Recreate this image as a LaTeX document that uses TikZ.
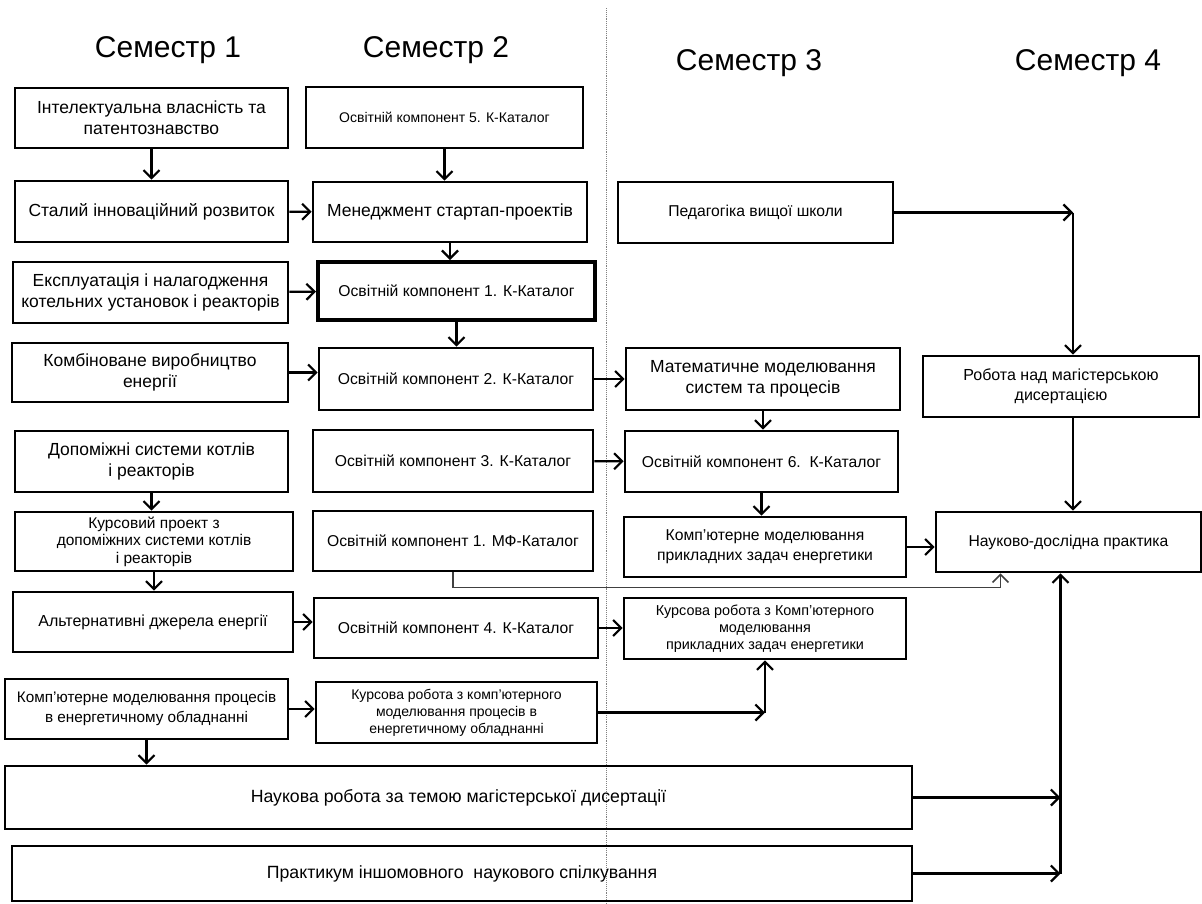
\documentclass[tikz,border=0pt]{standalone}
\usepackage{fontspec}
\setmainfont{Liberation Sans}
\usetikzlibrary{positioning}
\usetikzlibrary{arrows.meta}

\tikzset{
    box/.style={draw, line width=2.6pt, align=center, inner sep=2pt,
        font=\fontsize{17.5}{21}\selectfont},
    mbox/.style={box, font=\fontsize{15.7}{20}\selectfont},
    sbox/.style={box, font=\fontsize{14}{17}\selectfont},
    sem/.style={font=\fontsize{30}{36}\selectfont},
    arr/.style={->, line width=2.2pt},
    >={Straight Barb[length=8pt,width=16pt]},
}

\begin{document}
\begin{tikzpicture}[x=1pt, y=-1pt]
    \useasboundingbox (0,0) rectangle (1202,903);
    \draw[gray, line width=0.9pt, densely dotted] (606,8) -- (606,903);

    \node[sem] (s1) at (168,50) {Семестр 1};
    \node[sem] (s2) at (436,50) {Семестр 2};
    \node[sem] (s3) at (749,63) {Семестр 3};
    \node[sem] (s4) at (1088,63) {Семестр 4};

    \node[box, minimum width=273pt, minimum height=60pt] (ip) at (151.5,118) {Інтелектуальна власність та\\патентознавство};
    \node[box, minimum width=273pt, minimum height=61pt] (rozv) at (151.5,211.5) {Сталий інноваційний розвиток};
    \node[box, minimum width=275pt, minimum height=61pt] (ekspl) at (150.5,292.5) {Експлуатація і налагодження\\котельних установок і реакторів};
    \node[box, minimum width=276pt, minimum height=59pt] (komb) at (150,372.5) {Комбіноване виробництво\\енергії};
    \node[box, minimum width=273pt, minimum height=61pt] (dopom) at (151.5,461.5) {Допоміжні системи котлів\\і реакторів};
    \node[mbox, font=\fontsize{15.5}{17.5}\selectfont, minimum width=278pt, minimum height=59pt] (kproekt) at (154,541.5) {Курсовий проект з\\допоміжних системи котлів\\і реакторів};
    \node[mbox, font=\fontsize{16}{20}\selectfont, minimum width=280pt, minimum height=60pt] (alt) at (153,622) {Альтернативні джерела енергії};
    \node[mbox, font=\fontsize{15.3}{20}\selectfont, minimum width=283pt, minimum height=60pt] (kmod) at (146.5,709) {Комп'ютерне моделювання процесів\\в енергетичному обладнанні};

    \node[sbox, minimum width=277pt, minimum height=61pt] (ok5) at (444.5,117.5) {Освітній компонент 5. К-Каталог};
    \node[box, minimum width=274pt, minimum height=60pt] (startap) at (450,212) {Менеджмент стартап-проектів};
    \node[mbox, line width=4pt, minimum width=277pt, minimum height=58pt] (ok1) at (456.5,291) {Освітній компонент 1. К-Каталог};
    \node[mbox, minimum width=274pt, minimum height=62pt] (ok2) at (456,379) {Освітній компонент 2. К-Каталог};
    \node[mbox, minimum width=280pt, minimum height=62pt] (ok3) at (453,461) {Освітній компонент 3. К-Каталог};
    \node[mbox, minimum width=280pt, minimum height=60pt] (okmf) at (453,541) {Освітній компонент 1. МФ-Каталог};
    \node[mbox, minimum width=284pt, minimum height=60pt] (ok4) at (456,628) {Освітній компонент 4. К-Каталог};
    \node[sbox, minimum width=281pt, minimum height=61pt] (kursmod) at (456.5,712.5) {Курсова робота з комп'ютерного\\моделювання процесів в\\енергетичному обладнанні};

    \node[mbox, minimum width=275pt, minimum height=61pt] (ped) at (755.5,212.5) {Педагогіка вищої школи};
    \node[box, minimum width=274pt, minimum height=62pt] (matmod) at (763,379) {Математичне моделювання\\систем та процесів};
    \node[mbox, minimum width=273pt, minimum height=61pt] (ok6) at (761.5,461.5) {Освітній компонент 6.~~К-Каталог};
    \node[mbox, minimum width=282pt, minimum height=60pt] (kompmod) at (765,547) {Комп'ютерне моделювання\\прикладних задач енергетики};
    \node[sbox, font=\fontsize{14.4}{17}\selectfont, minimum width=282pt, minimum height=61pt] (kurskomp) at (765,628.5) {Курсова робота з Комп'ютерного\\моделювання\\прикладних задач енергетики};

    \node[mbox, font=\fontsize{16}{20}\selectfont, minimum width=276pt, minimum height=61pt] (robota) at (1061,386.5) {Робота над магістерською\\дисертацією};
    \node[mbox, minimum width=265pt, minimum height=60pt] (praktyka) at (1068.5,542) {Науково-дослідна практика};

    \node[box, font=\fontsize{17.7}{21}\selectfont, minimum width=907pt, minimum height=63pt] (nauk) at (458.5,797.5) {Наукова робота за темою магістерської дисертації};
    \node[box, font=\fontsize{17.7}{21}\selectfont, minimum width=900pt, minimum height=55pt] (inshom) at (462,873.5) {Практикум іншомовного~~наукового спілкування};

    \coordinate (kut1) at ([xshift=12pt]robota.north |- ped.east);
    \coordinate (kut2) at (kurskomp.south |- kursmod.east);
    \coordinate (kut3) at ([xshift=-8pt]praktyka.south |- nauk.east);
    \coordinate (kut4) at (kut3 |- inshom.east);

    \draw[arr] (ip) -- (rozv);
    \draw[arr] (rozv) -- (startap);
    \draw[arr] (ekspl) -- (ok1);
    \draw[arr] (komb.east) -- (komb.east -| ok2.west);
    \draw[arr] (dopom.south) -- (dopom.south |- kproekt.north);
    \draw[arr] (kproekt.south) -- (kproekt.south |- alt.north);
    \draw[arr] (alt.east) -- (alt.east -| ok4.west);
    \draw[arr] (kmod.east) -- (kmod.east -| kursmod.west);
    \draw[arr] (kmod.south) -- (kmod.south |- nauk.north);

    \draw[arr] (ok5.south) -- (ok5.south |- startap.north);
    \draw[arr] (startap.south) -- (startap.south |- ok1.north);
    \draw[arr] (ok1.south) -- (ok1.south |- ok2.north);
    \draw[arr] (ok2) -- (matmod);
    \draw[arr] (ok3) -- (ok6);
    \draw[arr] (ok4.east) -- (ok4.east -| kurskomp.west);
    \draw[arr] (kursmod.east) -- (kut2);
    \draw[arr] (kut2) -- (kurskomp.south);
    \draw[->, line width=1.6pt, gray!50!black] (okmf.south) -- ++(0,15) -| ([xshift=-68pt]praktyka.south);

    \draw[arr] (ped.east) -- (kut1);
    \draw[arr] (kut1) -- (kut1 |- robota.north);
    \draw[arr] (kut1 |- robota.south) -- (kut1 |- praktyka.north);
    \draw[arr] (matmod.south) -- (matmod.south |- ok6.north);
    \draw[arr] (ok6.south) -- (ok6.south |- kompmod.north);
    \draw[arr] (kompmod.east) -- (kompmod.east -| praktyka.west);

    \draw[arr] (nauk.east) -- (kut3);
    \draw[arr] (inshom.east) -- (kut4);
    \draw[arr] (kut4) -- (kut4 |- praktyka.south);
\end{tikzpicture}
\end{document}
